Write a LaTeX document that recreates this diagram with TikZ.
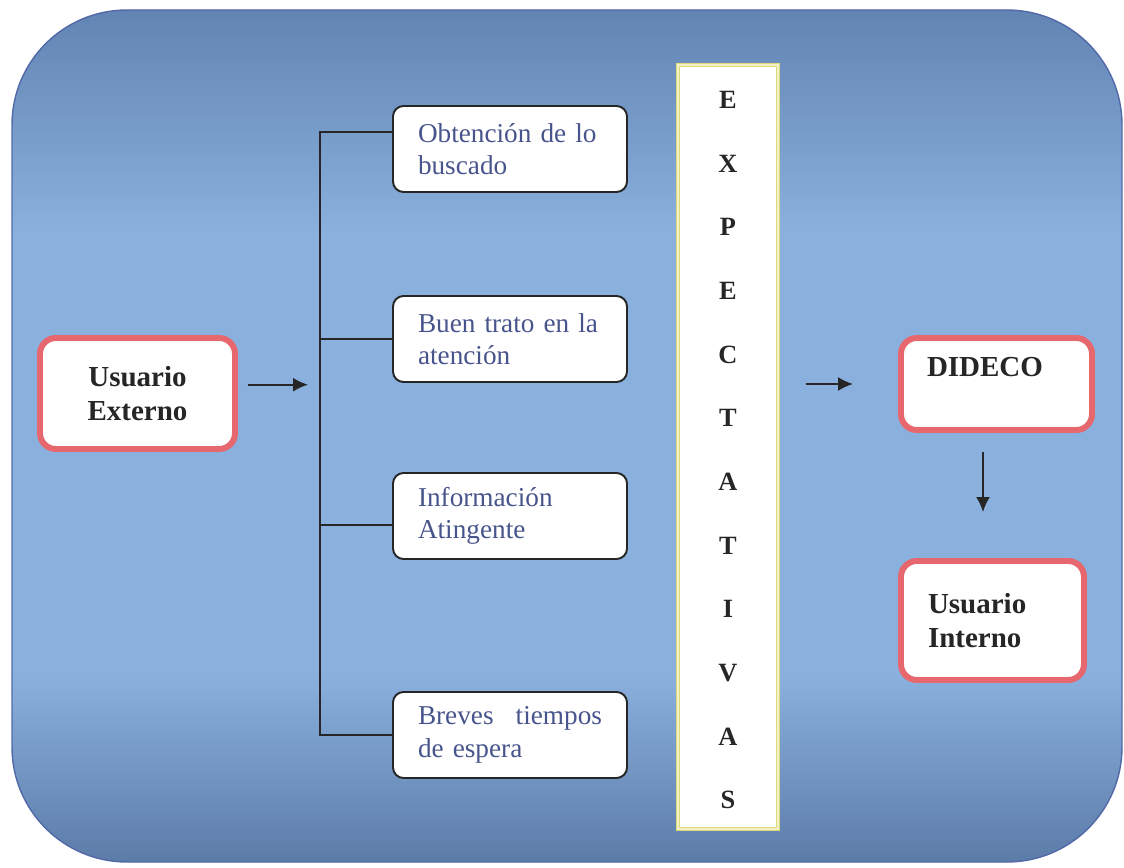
\documentclass[tikz,border=0pt]{standalone}
\usepackage{fontspec}
\setmainfont{Liberation Serif}
\usepackage{xcolor}
\usepackage{tikz}
\usetikzlibrary{arrows.meta,positioning,calc}
\definecolor{bgtop}{RGB}{98,132,178}
\definecolor{bgmid}{RGB}{138,176,222}
\definecolor{bgbot}{RGB}{92,124,168}
\definecolor{bgedge}{RGB}{82,104,168}
\definecolor{rosy}{RGB}{230,104,110}
\definecolor{slate}{RGB}{72,84,140}
\definecolor{paleyel}{RGB}{222,218,120}
\definecolor{ink}{RGB}{38,38,38}
\pgfdeclareverticalshading{panel}{100bp}{color(0bp)=(bgbot); color(25bp)=(bgbot);
    color(36bp)=(bgmid); color(62bp)=(bgmid); color(75bp)=(bgtop); color(100bp)=(bgtop)}

\begin{document}
\begin{tikzpicture}[
    font=\fontsize{15.5}{18.5}\selectfont,
    redbox/.style={draw=rosy,line width=3.4pt,rounded corners=9pt,fill=white,
        font=\fontsize{16.5}{19.5}\selectfont\bfseries,text=ink},
    bluebox/.style={draw=ink,line width=1.1pt,rounded corners=6pt,fill=white,
        text=slate,align=left,text width=3.68cm,inner xsep=0.5cm,
        minimum width=4.68cm,minimum height=1.72cm},
    letter/.style={font=\fontsize{15}{18}\selectfont\bfseries,text=ink,inner sep=0pt},
    link/.style={line width=1pt,draw=ink},
    arrow/.style={-{Latex[length=3mm,width=2.8mm]},line width=1.1pt,draw=ink}
]
\useasboundingbox (0,0) rectangle (22.48,-17.36);
\path[draw=bgedge,line width=0.8pt,rounded corners=2.3cm,shading=panel]
    (0.24,-0.2) rectangle (22.44,-17.24);

\node[redbox,align=center,minimum width=3.9cm,minimum height=2.22cm] (ext) at (2.75,-7.87) {Usuario\\Externo};

\node[bluebox] (b1) at (10.2,-2.98) {Obtención de lo\\buscado};
\node[bluebox] (b2) at (10.2,-6.78) {Buen trato en la\\atención};
\node[bluebox] (b3) at (10.2,-10.32) {Información\\Atingente};
\node[bluebox] (b4) at (10.2,-14.7) {Breves\hfill tiempos\\de espera};

\node[draw=paleyel,line width=0.8pt,double=white!60!paleyel,double distance=1pt,fill=white,
    minimum width=2cm,minimum height=15.28cm] (exp) at (14.56,-8.94) {};
\foreach \ch [count=\i] in {E,X,P,E,C,T,A,T,I,V,A,S}
    \node[letter] (l\i) at (14.56,{-2.0-1.2727*(\i-1)}) {\ch};

\node[redbox,align=left,text width=2.78cm,inner xsep=0.52cm,minimum height=1.84cm] (dideco) at (19.93,-7.68) {DIDECO\\~};
\node[redbox,align=left,text width=2.58cm,inner xsep=0.54cm,minimum height=2.38cm] (intern) at (19.85,-12.41) {Usuario\\Interno};

% bracket
\coordinate (spinetop) at ([yshift=0.34cm]b1.west -| 6.4,0);
\coordinate (spinebot) at (b4.west -| spinetop);
\coordinate (b3tap) at ([yshift=-0.18cm]b3.west);
\draw[link] ([yshift=0.34cm]b1.west) -- (spinetop) -- (spinebot) -- (b4.west);
\draw[link] (b2.west) -- (b2.west -| spinetop);
\draw[link] (b3tap) -- (b3tap -| spinetop);

\draw[arrow,shorten <=0.2cm,shorten >=0.24cm] (ext.5) -- (ext.5 -| spinetop);
\draw[arrow,shorten <=0.54cm,shorten >=0.9cm] (exp.east |- dideco.west) -- (dideco.west);
\coordinate (drop) at ([xshift=-0.27cm]dideco.south);
\draw[arrow,shorten <=0.38cm,shorten >=0.92cm] (drop) -- (drop |- intern.north);
\end{tikzpicture}
\end{document}
